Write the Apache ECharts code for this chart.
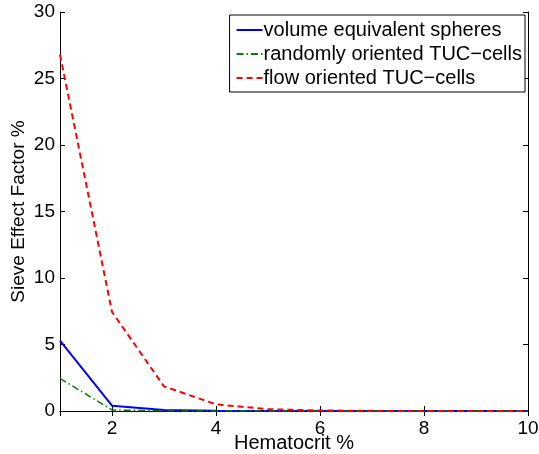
<!DOCTYPE html>
<html>
<head>
<meta charset="utf-8">
<script src="https://cdn.jsdelivr.net/npm/echarts@6/dist/echarts.min.js"></script>
<style>
html, body { margin: 0; padding: 0; background: #fff; }
#main { width: 539px; height: 454px; }
</style>
</head>
<body>
<div id="main"></div>
<script>
var hematocrit = [1, 2, 3, 4, 5, 6, 7, 8, 9, 10];
var spheres = [5.3, 0.4, 0.08, 0.02, 0.005, 0, 0, 0, 0, 0];
var randomTUC = [2.45, 0.08, 0.01, 0, 0, 0, 0, 0, 0, 0];
var flowTUC = [26.8, 7.45, 1.85, 0.5, 0.14, 0.04, 0.01, 0, 0, 0];
var names = ['volume equivalent spheres', 'randomly oriented TUC\u2212cells', 'flow oriented TUC\u2212cells'];

function pairs(ys) {
    return hematocrit.map(function (x, i) { return [x, ys[i]]; });
}

var dom = document.getElementById("main");
var myChart = echarts.init(dom);
var font = 'Liberation Sans, Arial, Helvetica, sans-serif';
var option = {
    animation: false,
    grid: { left: 60, right: 11, top: 12, bottom: 43, outerBoundsMode: 'none', containLabel: false },
    legend: {
        orient: 'vertical',
        right: 14,
        top: 15,
        align: 'left',
        itemWidth: 26,
        itemHeight: 10,
        itemGap: 4,
        padding: [5, 3, 4, 6],
        borderColor: '#000',
        borderWidth: 1,
        borderRadius: 0,
        backgroundColor: '#fff',
        itemStyle: { opacity: 0 },
        textStyle: { color: '#000', fontSize: 20, fontFamily: font, padding: [0, 0, 0, -4] },
        data: names
    },
    xAxis: [{
        type: 'value',
        min: 1,
        max: 10,
        name: 'Hematocrit %',
        nameLocation: 'middle',
        nameGap: 22,
        nameMoveOverlap: false,
        nameTextStyle: { color: '#000', fontSize: 20, fontFamily: font },
        axisLine: { lineStyle: { color: '#000', width: 1 } },
        axisTick: { inside: true, length: 5, lineStyle: { color: '#000' } },
        axisLabel: { color: '#000', fontSize: 19, fontFamily: font, margin: 8, showMinLabel: false },
        splitLine: { show: false }
    }, {
        type: 'value',
        position: 'top',
        min: 1,
        max: 10,
        axisLine: { lineStyle: { color: '#000', width: 1 } },
        axisTick: { inside: true, length: 5, lineStyle: { color: '#000' } },
        axisLabel: { show: false },
        splitLine: { show: false }
    }],
    yAxis: [{
        type: 'value',
        min: 0,
        max: 30,
        interval: 5,
        name: 'Sieve Effect Factor %',
        nameLocation: 'middle',
        nameGap: 32,
        nameMoveOverlap: false,
        nameTextStyle: { color: '#000', fontSize: 19, fontFamily: font },
        axisLine: { show: true, lineStyle: { color: '#000', width: 1 } },
        axisTick: { show: true, inside: true, length: 5, lineStyle: { color: '#000' } },
        axisLabel: { color: '#000', fontSize: 19, fontFamily: font, margin: 5 },
        splitLine: { show: false }
    }, {
        type: 'value',
        position: 'right',
        min: 0,
        max: 30,
        interval: 5,
        axisLine: { show: true, lineStyle: { color: '#000', width: 1 } },
        axisTick: { show: true, inside: true, length: 5, lineStyle: { color: '#000' } },
        axisLabel: { show: false },
        splitLine: { show: false }
    }],
    series: [{
        name: names[0],
        type: 'line',
        symbol: 'none',
        data: pairs(spheres),
        lineStyle: { color: '#0000ff', width: 2, type: 'solid' },
        itemStyle: { color: '#0000ff' }
    }, {
        name: names[1],
        type: 'line',
        symbol: 'none',
        data: pairs(randomTUC),
        lineStyle: { color: '#008000', width: 1.5, type: [7, 3, 1.5, 3] },
        itemStyle: { color: '#008000' }
    }, {
        name: names[2],
        type: 'line',
        symbol: 'none',
        data: pairs(flowTUC),
        lineStyle: { color: '#ff0000', width: 2, type: [6, 4] },
        itemStyle: { color: '#ff0000' }
    }]
};
if (option && typeof option === "object") {
    myChart.setOption(option, true);
}
</script>
</body>
</html>
